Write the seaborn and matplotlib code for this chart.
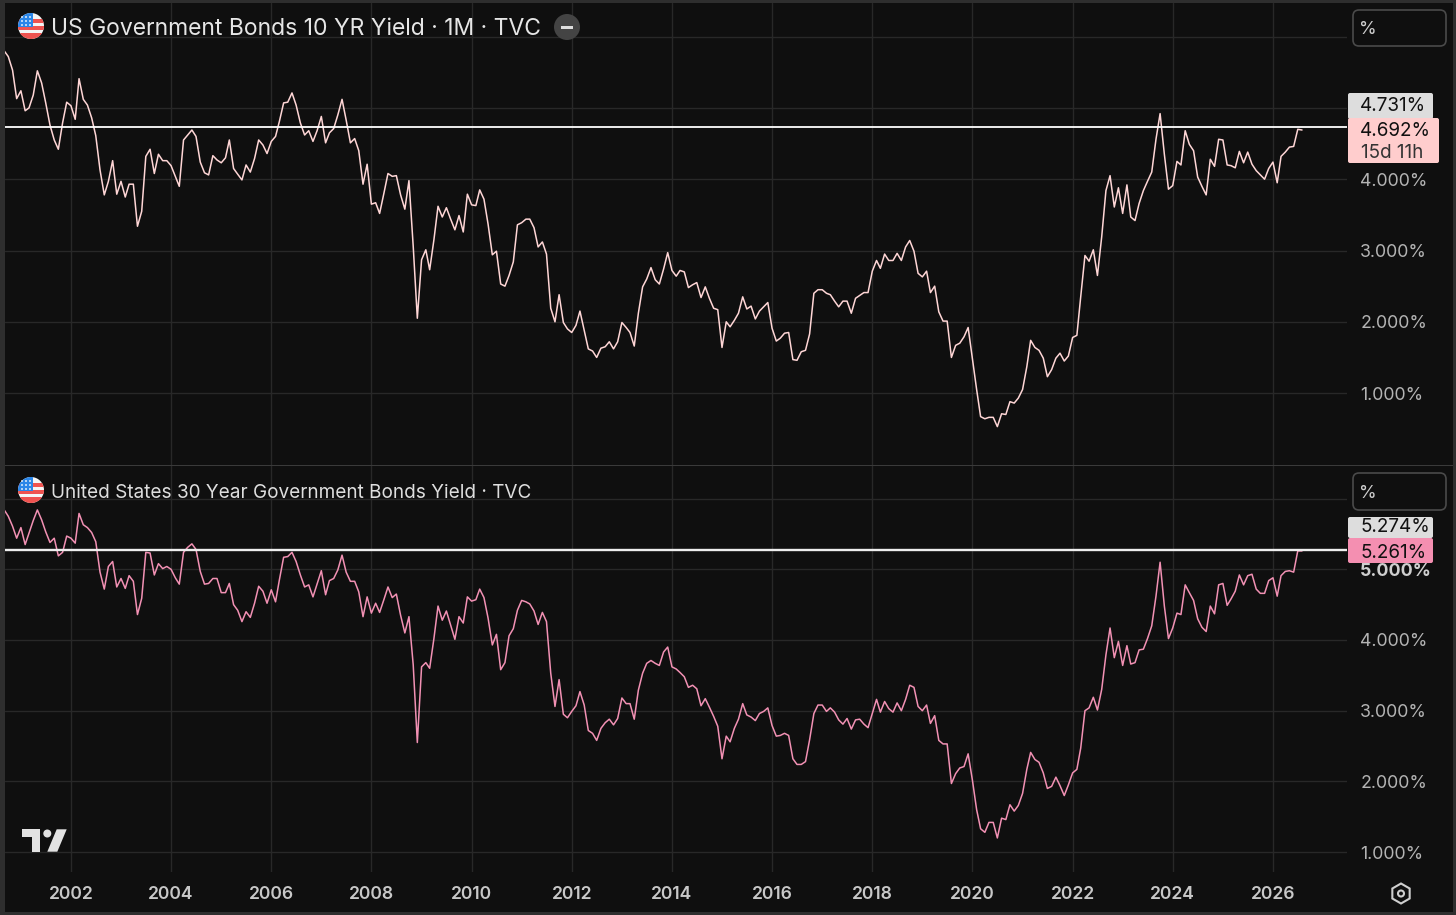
import matplotlib
matplotlib.use("Agg")
import matplotlib.pyplot as plt
import matplotlib.patches as mp
from matplotlib.transforms import Affine2D
import pandas as pd
import seaborn as sns

START = "2000-09-01"
yield_10y = [
5.80,5.72,5.53,5.13,5.24,4.96,5.00,5.18,5.52,5.35,5.07,4.76,4.55,4.42,4.79,5.08,5.03,4.84,5.41,5.12,
5.04,4.86,4.61,4.13,3.78,3.97,4.26,3.79,3.97,3.75,3.93,3.93,3.34,3.55,4.32,4.42,4.08,4.35,4.26,4.26,
4.19,4.04,3.90,4.55,4.62,4.69,4.60,4.24,4.09,4.06,4.33,4.27,4.23,4.30,4.55,4.15,4.07,3.99,4.20,4.10,
4.29,4.55,4.48,4.36,4.53,4.60,4.81,5.07,5.08,5.21,5.04,4.79,4.62,4.68,4.53,4.68,4.88,4.51,4.65,4.71,
4.90,5.12,4.83,4.51,4.57,4.40,3.93,4.21,3.65,3.67,3.52,3.80,4.08,4.04,4.05,3.78,3.58,3.98,3.06,2.05,
2.87,3.01,2.73,3.15,3.62,3.47,3.60,3.44,3.29,3.49,3.26,3.79,3.64,3.63,3.85,3.72,3.37,2.94,2.99,2.53,
2.50,2.65,2.84,3.36,3.39,3.44,3.44,3.32,3.05,3.12,2.95,2.19,2.00,2.38,1.99,1.90,1.85,1.95,2.15,1.88,
1.62,1.59,1.50,1.63,1.65,1.72,1.62,1.72,1.99,1.92,1.85,1.66,2.12,2.49,2.60,2.76,2.59,2.53,2.74,2.97,
2.72,2.64,2.72,2.70,2.48,2.52,2.55,2.34,2.49,2.33,2.19,2.17,1.64,2.00,1.93,2.02,2.12,2.35,2.18,2.22,
2.04,2.15,2.21,2.27,1.91,1.73,1.77,1.84,1.85,1.47,1.46,1.58,1.60,1.83,2.40,2.45,2.45,2.40,2.38,2.29,
2.21,2.29,2.29,2.12,2.33,2.37,2.41,2.41,2.71,2.86,2.75,2.95,2.86,2.86,2.96,2.86,3.05,3.14,2.99,2.68,
2.63,2.71,2.41,2.50,2.14,2.01,2.01,1.50,1.67,1.70,1.79,1.92,1.49,1.05,0.67,0.64,0.66,0.66,0.53,0.71,
0.70,0.88,0.86,0.93,1.05,1.37,1.74,1.64,1.60,1.49,1.23,1.33,1.49,1.56,1.45,1.52,1.78,1.81,2.35,2.93,
2.85,3.01,2.65,3.19,3.84,4.05,3.61,3.88,3.52,3.92,3.47,3.42,3.66,3.84,3.97,4.10,4.56,4.92,4.35,3.86,
3.91,4.25,4.20,4.68,4.49,4.40,4.03,3.90,3.78,4.28,4.18,4.56,4.55,4.20,4.19,4.16,4.39,4.23,4.38,4.21,
4.12,4.06,4.00,4.15,4.24,3.95,4.32,4.38,4.45,4.46,4.70,4.69]
yield_30y = [
5.84,5.75,5.61,5.44,5.59,5.35,5.51,5.69,5.84,5.70,5.53,5.38,5.44,5.19,5.24,5.47,5.44,5.37,5.79,5.63,
5.59,5.52,5.39,4.96,4.72,5.04,5.11,4.75,4.87,4.73,4.91,4.83,4.36,4.59,5.24,5.23,4.92,5.08,5.01,5.04,
5.00,4.88,4.79,5.24,5.31,5.36,5.28,4.97,4.79,4.80,4.87,4.87,4.67,4.67,4.80,4.50,4.42,4.26,4.40,4.32,
4.52,4.76,4.69,4.52,4.71,4.54,4.85,5.17,5.18,5.24,5.11,4.92,4.75,4.78,4.61,4.79,4.98,4.64,4.84,4.87,
4.99,5.20,4.96,4.83,4.83,4.68,4.33,4.61,4.38,4.52,4.39,4.57,4.75,4.60,4.65,4.35,4.10,4.33,3.65,2.55,
3.62,3.68,3.60,4.02,4.48,4.28,4.41,4.21,4.01,4.33,4.24,4.61,4.55,4.57,4.72,4.60,4.31,3.93,4.08,3.58,
3.68,4.06,4.16,4.42,4.56,4.54,4.51,4.41,4.22,4.39,4.26,3.53,3.06,3.44,2.95,2.90,2.99,3.07,3.27,3.08,
2.72,2.68,2.58,2.75,2.83,2.88,2.80,2.89,3.18,3.10,3.10,2.88,3.29,3.53,3.67,3.71,3.67,3.64,3.83,3.90,
3.62,3.59,3.54,3.48,3.33,3.36,3.31,3.07,3.17,3.05,2.92,2.78,2.32,2.64,2.56,2.75,2.88,3.10,2.94,2.91,
2.86,2.96,2.99,3.04,2.79,2.64,2.65,2.68,2.65,2.32,2.24,2.24,2.28,2.59,2.96,3.08,3.08,2.99,3.04,2.98,
2.87,2.81,2.89,2.74,2.87,2.88,2.81,2.76,2.96,3.16,2.98,3.13,3.03,2.98,3.11,3.00,3.16,3.36,3.33,3.06,
3.00,3.08,2.82,2.93,2.58,2.53,2.53,1.97,2.11,2.19,2.21,2.39,2.02,1.60,1.33,1.28,1.42,1.42,1.20,1.48,
1.46,1.67,1.58,1.66,1.83,2.17,2.41,2.31,2.27,2.12,1.90,1.93,2.06,1.94,1.80,1.95,2.12,2.17,2.47,3.00,
3.04,3.19,3.01,3.30,3.79,4.17,3.75,3.98,3.64,3.92,3.66,3.68,3.86,3.87,4.02,4.20,4.62,5.10,4.48,4.02,
4.17,4.38,4.36,4.78,4.67,4.56,4.30,4.18,4.12,4.48,4.37,4.78,4.80,4.49,4.58,4.69,4.92,4.78,4.91,4.93,
4.72,4.66,4.66,4.84,4.88,4.62,4.91,4.97,4.98,4.96,5.26,5.26]
level_10y = 4.731
level_30y = 5.274
x_years = list(range(2002, 2028, 2))
top_ticks = [1, 2, 3, 4, 5, 6]
top_labels = ["1.000%", "2.000%", "3.000%", "4.000%", "", ""]
bot_ticks = [1, 2, 3, 4, 5, 6]
bot_labels = ["1.000%", "2.000%", "3.000%", "4.000%", "5.000%", ""]
title_top = "US Government Bonds 10 YR Yield · 1M · TVC"
title_bot = "United States 30 Year Government Bonds Yield · TVC"

W, H = 1456, 915
BG, EDGE, GRID = "#0f0f0f", "#2e2e2e", "#282828"
sns.set_theme(style="dark", rc={"axes.grid": False})
plt.rcParams["font.family"] = ["Inter", "DejaVu Sans"]

df = pd.DataFrame({
    "date": pd.date_range(START, periods=len(yield_10y), freq="MS"),
    "y10": yield_10y,
    "y30": yield_30y,
})

fig = plt.figure(figsize=(W / 100, H / 100), dpi=100, facecolor=EDGE)
px = Affine2D().scale(1 / W, -1 / H).translate(0, 1) + fig.transFigure


def axes_px(l, t, r, b):
    return fig.add_axes([l / W, 1 - b / H, (r - l) / W, (b - t) / H], facecolor=BG)


fig.add_artist(mp.Rectangle((5, 3), 1448, 909, transform=px, fc=BG, ec="none", zorder=-5))
ax1 = axes_px(5, 3, 1347, 465)
ax2 = axes_px(5, 465, 1347, 872)

sns.lineplot(data=df, x="date", y="y10", ax=ax1, color="#ffd6d6", lw=1.1, estimator=None, zorder=3)
sns.lineplot(data=df, x="date", y="y30", ax=ax2, color="#f291b4", lw=1.1, estimator=None, zorder=3)
ax1.axhline(level_10y, color="#ffffff", lw=1.3, zorder=4)
ax2.axhline(level_30y, color="#eeeeee", lw=1.7, zorder=4)

# 50.08 px per calendar year: 0.13712 px per day
xmin = pd.Timestamp(START) + pd.Timedelta(days=6)
xmax = xmin + pd.Timedelta(days=1342 / 0.13712)
ax1.set_ylim(4 - (465 - 179.2) / 71.3, 4 + (179.2 - 3) / 71.3)
ax2.set_ylim(5 - (872 - 569.3) / 70.7, 5 + (569.3 - 465) / 70.7)

for ax, ticks, labels in ((ax1, top_ticks, top_labels), (ax2, bot_ticks, bot_labels)):
    ax.set_xlim(xmin, xmax)
    ax.set_xticks([pd.Timestamp(f"{y}-01-01") for y in x_years])
    ax.set_xticklabels([str(y) for y in x_years])
    ax.set_yticks(ticks)
    ax.set_yticklabels(labels)
    ax.yaxis.tick_right()
    ax.set_xlabel("")
    ax.set_ylabel("")
    ax.grid(True, color=GRID, lw=1, zorder=0)
    ax.set_axisbelow(True)
    for s in ax.spines.values():
        s.set_visible(False)
    ax.tick_params(axis="y", length=0, pad=9.5, labelsize=12.8, labelcolor="#b4b4b4")
    ax.tick_params(axis="x", length=0, pad=10, labelsize=12.6, labelcolor="#c8c8c8")
ax1.tick_params(axis="x", labelbottom=False)
for lab in ax2.get_xticklabels():
    lab.set_fontweight("semibold")
ylabs = ax2.get_yticklabels()
ylabs[4].set_fontweight("bold")
ylabs[4].set_color("#cfcfcf")

# separators
fig.add_artist(mp.Rectangle((5, 464.5), 1448, 1.2, transform=px, fc="#3a3a3a", ec="none", zorder=5))
Z = 10


def box(x0, y0, x1, y1, fc, ec="none", r=2, lw=1):
    fig.add_artist(mp.FancyBboxPatch((x0, y0), x1 - x0, y1 - y0, boxstyle=f"round,pad=0,rounding_size={r}",
                                     transform=px, fc=fc, ec=ec, lw=lw, zorder=Z))


def label(x, y, s, color="#111111", size=13.6, ha="left", **kw):
    fig.text(x, y, s, transform=px, color=color, fontsize=size, ha=ha, va="center", zorder=Z + 1, **kw)


def flag(cx, cy, r=13):
    clip = mp.Circle((cx, cy), r, transform=px, fc="#f5f5f5", ec="none", zorder=Z)
    fig.add_artist(clip)
    items = []
    for k in range(3):
        items.append(mp.Rectangle((cx - r, cy - 7 + k * 7), 2 * r, 3.5, transform=px, fc="#ef5350", ec="none", zorder=Z + 1))
    items.append(mp.Rectangle((cx - r, cy + 7.5), 2 * r, 6, transform=px, fc="#ef5350", ec="none", zorder=Z + 1))
    items.append(mp.Rectangle((cx - r, cy - r), r + 1.5, r + 1, transform=px, fc="#2a86e8", ec="none", zorder=Z + 2))
    for a in items:
        fig.add_artist(a)
        a.set_clip_path(clip)
    for row in range(3):
        for col in range(3):
            d = mp.Circle((cx - 9 + col * 4, cy - 9 + row * 4), 0.9, transform=px, fc="white", ec="none", zorder=Z + 3)
            fig.add_artist(d)


flag(31, 26)
flag(31, 490)
label(51, 29, title_top, color="#e6e6e6", size=16.5)
label(51, 492.5, title_bot, color="#dedede", size=13.65)

# minus pill
fig.add_artist(mp.Circle((567, 27), 13, transform=px, fc="#444444", ec="none", zorder=Z))
fig.add_artist(mp.Rectangle((561, 25.5), 12, 3, transform=px, fc="#dddddd", ec="none", zorder=Z + 1))

# unit boxes
box(1353, 10, 1446, 46, BG, ec="#4a4a4a", r=6, lw=1.2)
label(1359, 30, "%", color="#d0d0d0", size=13)
box(1353, 473, 1446, 510, BG, ec="#4a4a4a", r=6, lw=1.2)
label(1359, 493, "%", color="#d0d0d0", size=13)

# price tags
box(1348, 93, 1433, 119, "#dddddd")
label(1360, 106, "4.731%")
box(1348, 118, 1439, 163, "#ffcdcd")
label(1360, 131.5, "4.692%")
label(1361, 152.5, "15d 11h", color="#333333")
box(1348, 517, 1433, 538, "#dddddd")
label(1360, 527.5, "5.274%")
box(1348, 538, 1433, 563, "#f48fb1")
label(1360, 552.5, "5.261%")

# watermark
for pts in ([(22, 829.3), (40, 829.3), (40, 851.7), (31.7, 851.7), (31.7, 837.3), (22, 837.3)],
            [(56.7, 829.3), (66.7, 829.3), (57.3, 851.7), (47.3, 851.7)]):
    fig.add_artist(mp.Polygon(pts, closed=True, transform=px, fc="#e2e2e2", ec="none", zorder=Z))
fig.add_artist(mp.Circle((47.3, 833.5), 4, transform=px, fc="#e2e2e2", ec="none", zorder=Z))

# settings icon
fig.add_artist(mp.RegularPolygon((1401, 893.5), 6, radius=10, transform=px, fc="none", ec="#cfcfcf", lw=1.5, zorder=Z))
fig.add_artist(mp.Circle((1401, 893.5), 3, transform=px, fc="none", ec="#cfcfcf", lw=1.5, zorder=Z))

fig.savefig("out.png", dpi=100, facecolor=fig.get_facecolor())
